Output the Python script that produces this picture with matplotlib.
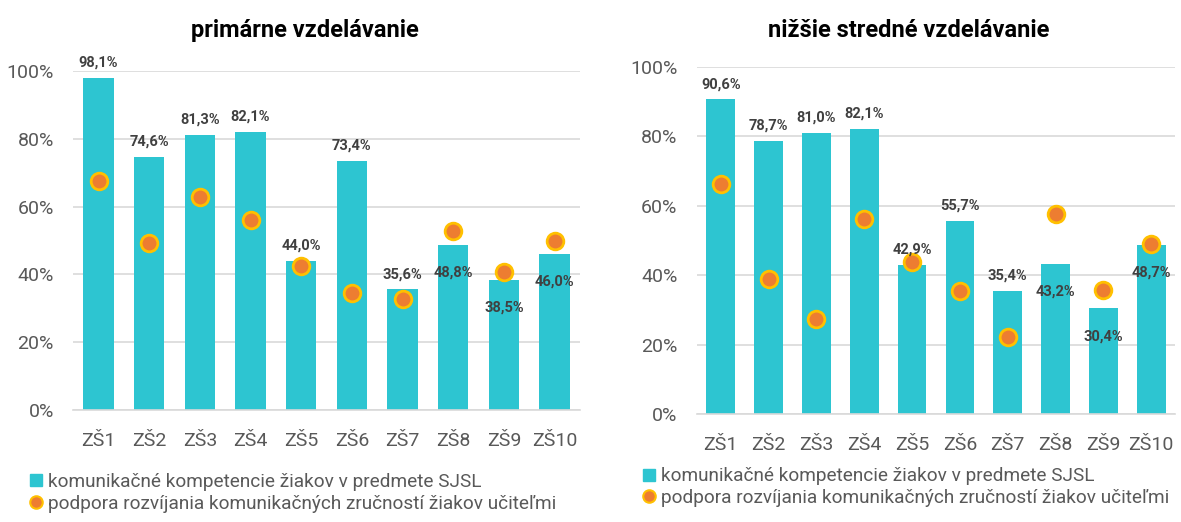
import matplotlib.pyplot as plt
from matplotlib.lines import Line2D

plt.rcParams['font.family'] = ['Roboto', 'DejaVu Sans']

# Dáta
skoly = ['ZŠ1', 'ZŠ2', 'ZŠ3', 'ZŠ4', 'ZŠ5', 'ZŠ6', 'ZŠ7', 'ZŠ8', 'ZŠ9', 'ZŠ10']

prim_kompetencie = [98.1, 74.6, 81.3, 82.1, 44.0, 73.4, 35.6, 48.8, 38.5, 46.0]
prim_podpora = [67.5, 49.3, 62.8, 56.0, 42.5, 34.5, 32.7, 52.8, 40.7, 49.9]

nizsie_kompetencie = [90.6, 78.7, 81.0, 82.1, 42.9, 55.7, 35.4, 43.2, 30.4, 48.7]
nizsie_podpora = [66.3, 39.0, 27.4, 56.2, 43.7, 35.3, 22.2, 57.7, 35.6, 49.0]

# popisok vo vnútri stĺpca (True) alebo nad ním (False)
prim_dnu = [False] * 7 + [True] * 3
nizsie_dnu = [False] * 7 + [True] * 3

farba_stlpec = '#2DC5D1'
farba_bod = '#ED7D31'
farba_okraj = '#FFC000'
siva = '#595959'

fig = plt.figure(figsize=(11.81, 5.22), dpi=100)
ax1 = fig.add_axes([0.062, 0.2146, 0.429, 0.649])
ax2 = fig.add_axes([0.590, 0.207, 0.405, 0.665])


def graf(ax, title, kompetencie, podpora, dnu, title_x, title_y, leg_x, leg_y):
    x = range(len(skoly))
    bars = ax.bar(x, kompetencie, width=0.6, color=farba_stlpec, zorder=2)
    ax.plot(x, podpora, linestyle='none', marker='o', markersize=12,
            markerfacecolor=farba_bod, markeredgecolor=farba_okraj,
            markeredgewidth=2, zorder=3)
    for b, v, d in zip(bars, kompetencie, dnu):
        off = -20 if d else 11
        ax.annotate(f'{v:.1f}%'.replace('.', ','),
                    (b.get_x() + b.get_width() / 2, v),
                    xytext=(0, off), textcoords='offset points',
                    ha='center', va='center', fontsize=10.5,
                    fontweight='bold', color='#404040', zorder=4)
    ax.set_xlim(-0.5, len(skoly) - 0.5)
    ax.set_ylim(0, 100)
    ax.set_yticks([0, 20, 40, 60, 80, 100])
    ax.set_yticklabels([f'{t}%' for t in [0, 20, 40, 60, 80, 100]])
    ax.set_xticks(list(x))
    ax.set_xticklabels(skoly)
    ax.tick_params(axis='both', length=0, labelsize=14, labelcolor=siva)
    ax.tick_params(axis='y', pad=14)
    ax.tick_params(axis='x', pad=16)
    ax.grid(axis='y', color='#D9D9D9', linewidth=1.2, zorder=0)
    ax.set_axisbelow(True)
    for s in ['top', 'right', 'left']:
        ax.spines[s].set_visible(False)
    ax.spines['bottom'].set_color('#D9D9D9')
    ax.spines['bottom'].set_linewidth(1.2)
    ax.set_title(title, fontsize=17, fontweight='bold', color='black',
                 x=title_x, y=title_y, pad=0)
    handles = [
        Line2D([], [], linestyle='none', marker='s', markersize=9,
               markerfacecolor=farba_stlpec, markeredgecolor=farba_stlpec),
        Line2D([], [], linestyle='none', marker='o', markersize=9,
               markerfacecolor=farba_bod, markeredgecolor=farba_okraj,
               markeredgewidth=1.5),
    ]
    ax.legend(handles, ['komunikačné kompetencie žiakov v predmete SJSL',
                        'podpora rozvíjania komunikačných zručností žiakov učiteľmi'],
              loc='upper left', bbox_to_anchor=(leg_x, leg_y),
              bbox_transform=fig.transFigure, frameon=False, fontsize=13.7,
              labelcolor=siva, handlelength=0.6, handletextpad=0.3,
              labelspacing=0.2, borderpad=0, borderaxespad=0)


graf(ax1, 'primárne vzdelávanie', prim_kompetencie, prim_podpora, prim_dnu,
     0.457, 1.10, 0.026, 0.094)
graf(ax2, 'nižšie stredné vzdelávanie', nizsie_kompetencie, nizsie_podpora,
     nizsie_dnu, 0.444, 1.086, 0.545, 0.105)

fig.savefig('out.png', dpi=100)
